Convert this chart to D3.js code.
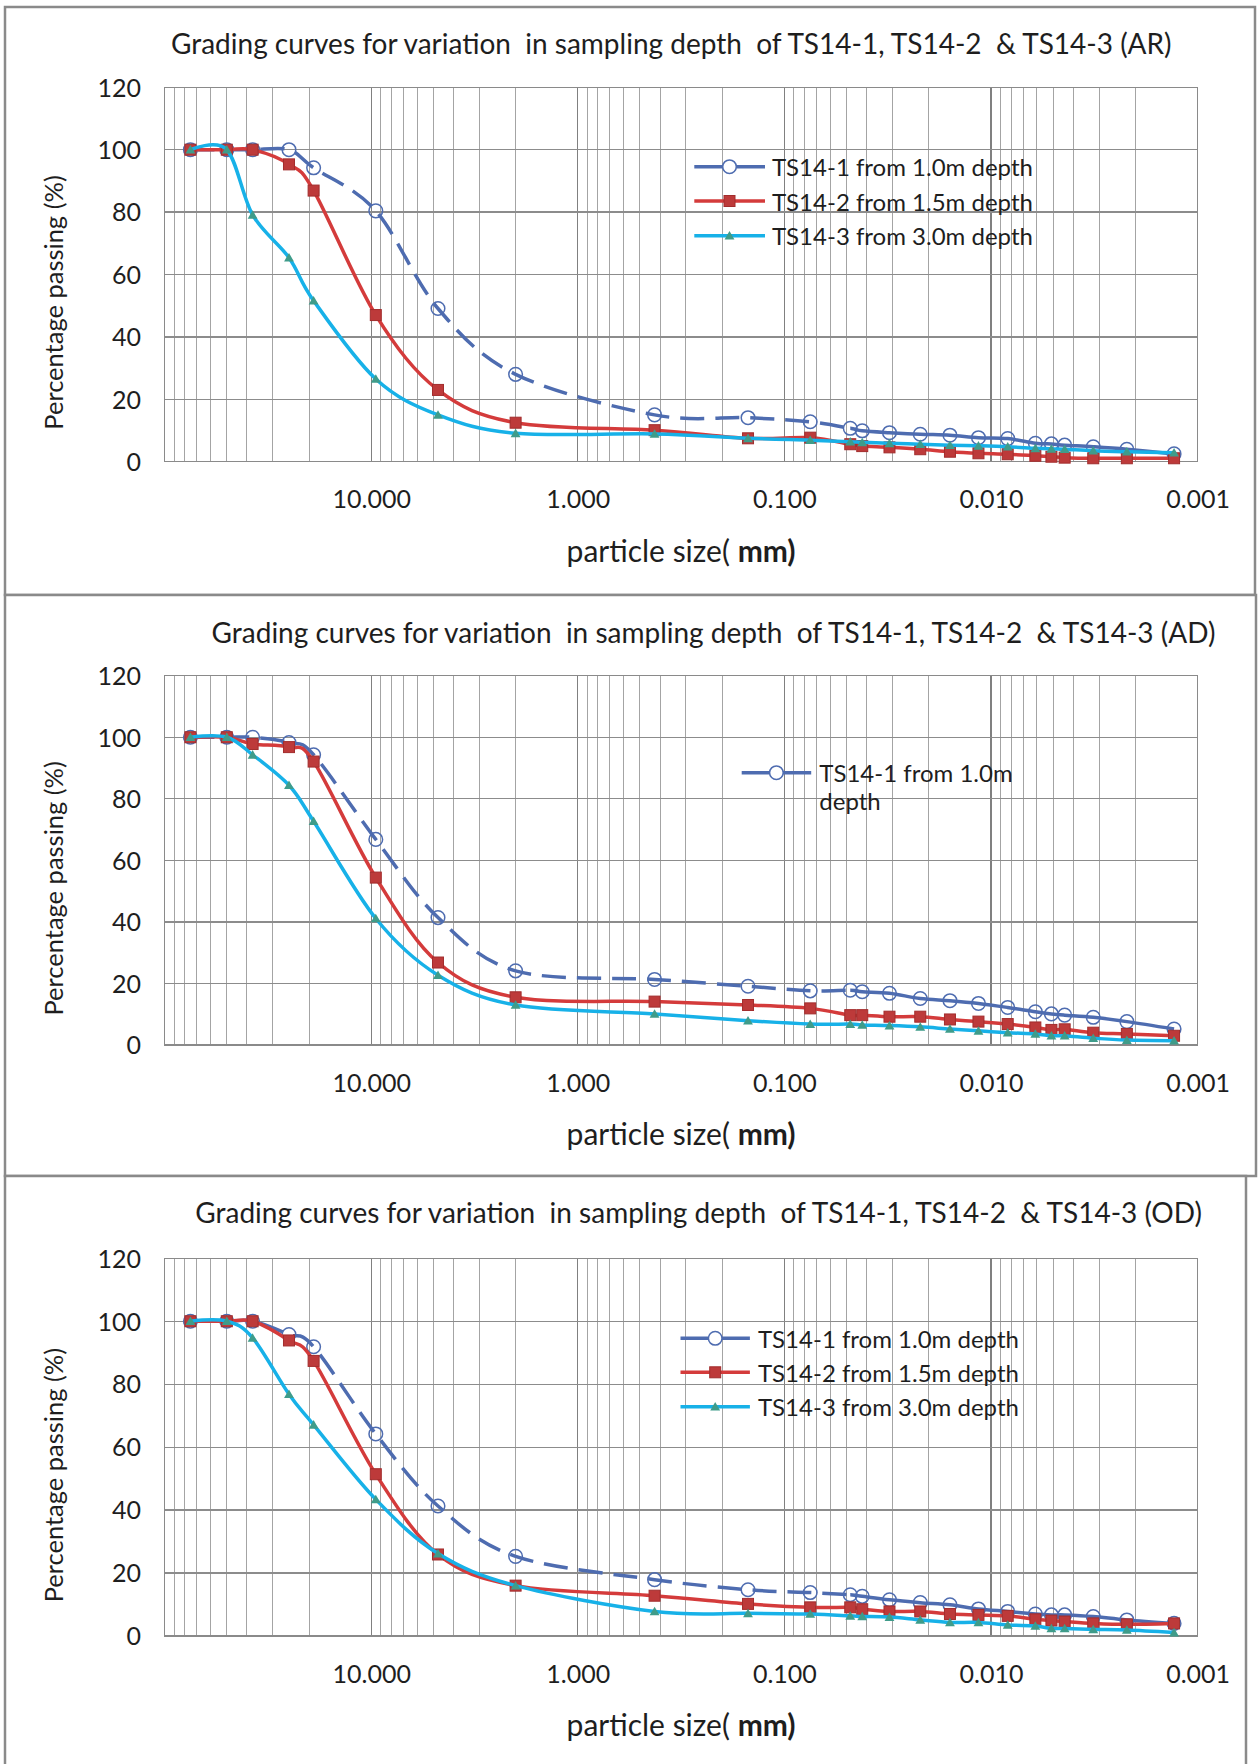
<!DOCTYPE html>
<html>
<head>
<meta charset="utf-8">
<script src="https://cdn.jsdelivr.net/npm/d3@7"></script>
<style>
  html, body { margin: 0; padding: 0; background: #fff; }
  svg { display: block; }
  text { font-family: Lato, "Open Sans", sans-serif; fill: #1e1e1e; }
</style>
</head>
<body>
<svg id="chart" width="1258" height="1764"></svg>
<script>
// Particle sizes (mm): sieve openings followed by hydrometer diameters
const sizes = [75, 50, 37.5, 25, 19, 9.5, 4.75, 2.0, 0.425, 0.15, 0.075,
  0.048, 0.042, 0.031, 0.022, 0.0158, 0.0115, 0.0083, 0.0061, 0.0051, 0.0044, 0.0032, 0.0022, 0.0013];

// Percentage passing, AR
const arTS1 = [100, 100, 100, 100, 94.2, 80.4, 49.1, 28.0, 15.0, 14.1, 12.8,
  10.7, 9.9, 9.3, 8.8, 8.5, 7.7, 7.4, 5.9, 5.7, 5.3, 4.8, 4.0, 2.5];
const arTS2 = [100, 100, 100, 95.3, 86.9, 47.0, 23.0, 12.5, 10.1, 7.5, 7.7,
  5.6, 5.0, 4.6, 4.0, 3.2, 2.7, 2.4, 1.9, 1.6, 1.3, 1.1, 1.1, 1.1];
const arTS3 = [100, 100, 79.1, 65.4, 51.6, 26.5, 15.0, 9.1, 8.9, 7.5, 6.9,
  6.4, 6.2, 5.9, 5.6, 5.3, 5.1, 4.8, 4.3, 4.1, 4.0, 3.5, 3.2, 2.9];

// Percentage passing, AD
const adTS1 = [100, 100, 100, 98.3, 94.3, 66.8, 41.4, 24.1, 21.3, 19.1, 17.6,
  17.8, 17.3, 16.8, 15.1, 14.4, 13.5, 12.2, 10.8, 10.1, 9.7, 9.0, 7.6, 5.2];
const adTS2 = [100, 100, 97.8, 96.8, 92.1, 54.4, 26.8, 15.5, 14.1, 13.0, 11.9,
  9.7, 9.7, 9.2, 9.2, 8.3, 7.6, 6.8, 5.7, 4.9, 5.1, 4.0, 3.6, 3.0];
const adTS3 = [100, 100, 94.3, 84.4, 72.7, 41.1, 22.7, 13.0, 10.1, 7.9, 6.8,
  6.8, 6.5, 6.3, 5.9, 5.2, 4.6, 4.0, 3.6, 3.0, 3.0, 2.2, 1.6, 1.4];

// Percentage passing, OD
const odTS1 = [100, 100, 100, 95.8, 91.9, 64.2, 41.3, 25.3, 17.9, 14.7, 13.8,
  13.1, 12.6, 11.5, 10.6, 9.9, 8.6, 7.8, 7.0, 6.7, 6.7, 6.2, 5.1, 4.0];
const odTS2 = [100, 100, 100, 93.9, 87.4, 51.4, 25.9, 16.0, 12.8, 10.2, 9.1,
  9.1, 8.5, 7.8, 7.8, 7.0, 6.7, 6.4, 5.3, 4.9, 4.6, 4.0, 3.7, 4.0];
const odTS3 = [100, 100, 94.7, 76.8, 67.1, 43.4, 26.2, 16.0, 7.8, 7.2, 7.0,
  6.4, 6.2, 6.0, 5.1, 4.3, 4.3, 3.5, 3.2, 2.4, 2.4, 2.1, 1.9, 1.1];

const panelTitles = [
  "Grading curves for variation  in sampling depth  of TS14-1, TS14-2  & TS14-3 (AR)",
  "Grading curves for variation  in sampling depth  of TS14-1, TS14-2  & TS14-3 (AD)",
  "Grading curves for variation  in sampling depth  of TS14-1, TS14-2  & TS14-3 (OD)"
];
const seriesNames = ["TS14-1 from 1.0m depth", "TS14-2 from 1.5m depth", "TS14-3 from 3.0m depth"];
const adLegendLines = ["TS14-1 from 1.0m", "depth"];
const xTickValues = [10, 1, 0.1, 0.01, 0.001];
const yTickValues = [0, 20, 40, 60, 80, 100, 120];
const xDomain = [100, 0.001];
const yDomain = [0, 120];
const hydrometerStart = 0.048; // first hydrometer diameter: TS14-1 line turns solid here

const panelData = [
  [arTS1, arTS2, arTS3],
  [adTS1, adTS2, adTS3],
  [odTS1, odTS2, odTS3]
];

// Panel geometry (page pixels)
const layout = [
  { frame: [5, 7, 1255, 595], top: 87.3, bottom: 461.7, titleX: 171, titleY: 43.3,
    legend: { x1: 694.3, x2: 765, mx: 729.5, tx: 772, ys: [166.7, 201, 235.7] } },
  { frame: [5, 595, 1256, 1176], top: 675.7, bottom: 1045, titleX: 211.6, titleY: 631.7,
    legend: { x1: 741.7, x2: 811.2, mx: 776.4, tx: 819.3, ys: [772.7] } },
  { frame: [5, 1176, 1246, 1768], top: 1258.3, bottom: 1636, titleX: 195.3, titleY: 1211.7,
    legend: { x1: 680.5, x2: 749.9, mx: 715.2, tx: 758, ys: [1338.3, 1372.3, 1406.7] } }
];
const plotLeft = 164.6, plotRight = 1197.6;

const styles = [
  { color: "#4e6cb0", marker: "circle" },
  { color: "#d43b3b", marker: "square" },
  { color: "#17b1e8", marker: "triangle" }
];

const svg = d3.select("#chart");
const defs = svg.append("defs");

function drawMarker(g, type, cx, cy, legend) {
  if (type === "circle") {
    g.append("circle").attr("cx", cx).attr("cy", cy).attr("r", 6.8)
      .attr("fill", legend ? "#fff" : "none").attr("stroke", "#4e6cb0").attr("stroke-width", 1.5);
  } else if (type === "square") {
    g.append("rect").attr("x", cx - 5.5).attr("y", cy - 5.5).attr("width", 11).attr("height", 11)
      .attr("fill", "#bd3a3a").attr("stroke", "#a22d2d").attr("stroke-width", 1);
  } else {
    g.append("path").attr("d", d3.symbol(d3.symbolTriangle, 42)())
      .attr("transform", `translate(${cx},${cy + 1})`)
      .attr("fill", "#3f9c8a");
  }
}

layout.forEach((L, pi) => {
  const g = svg.append("g");
  const [fx0, fy0, fx1, fy1] = L.frame;
  g.append("rect").attr("x", fx0).attr("y", fy0).attr("width", fx1 - fx0).attr("height", fy1 - fy0)
    .attr("fill", "#fff").attr("stroke", "#8a8a8a").attr("stroke-width", 2.5);

  const x = d3.scaleLog().domain(xDomain).range([plotLeft, plotRight]);
  const y = d3.scaleLinear().domain(yDomain).range([L.bottom, L.top]);

  // Log grid: every 1..9 multiple within each decade
  const grid = g.append("g");
  x.ticks().forEach(v => {
    const major = Math.abs(Math.log10(v) - Math.round(Math.log10(v))) < 1e-9;
    grid.append("line").attr("x1", x(v)).attr("x2", x(v)).attr("y1", L.top).attr("y2", L.bottom)
      .attr("stroke", major ? "#808080" : "#a4a4a4").attr("stroke-width", major ? 1.3 : 1)
      .attr("shape-rendering", "crispEdges");
  });
  yTickValues.forEach(v => {
    grid.append("line").attr("x1", plotLeft).attr("x2", plotRight).attr("y1", y(v)).attr("y2", y(v))
      .attr("stroke", "#8c8c8c").attr("stroke-width", 1.3).attr("shape-rendering", "crispEdges");
  });
  grid.append("rect").attr("x", plotLeft).attr("y", L.top).attr("width", plotRight - plotLeft)
    .attr("height", L.bottom - L.top).attr("fill", "none").attr("stroke", "#8a8a8a").attr("stroke-width", 1.3)
    .attr("shape-rendering", "crispEdges");

  // Axes (labels only)
  const xAxis = g.append("g").attr("transform", `translate(0,${L.bottom + 38})`)
    .call(d3.axisBottom(x).tickValues(xTickValues).tickFormat(d3.format(".3f")).tickSize(0).tickPadding(0));
  xAxis.select(".domain").remove();
  xAxis.selectAll("text").attr("font-size", 25).attr("dy", "0.35em")
    .style("font-family", "Lato, sans-serif").attr("fill", "#1e1e1e");

  const yAxis = g.append("g").attr("transform", `translate(141,0)`)
    .call(d3.axisLeft(y).tickValues(yTickValues).tickSize(0).tickPadding(0));
  yAxis.select(".domain").remove();
  yAxis.selectAll("text").attr("font-size", 25).attr("dy", "0.35em")
    .style("font-family", "Lato, sans-serif").attr("fill", "#1e1e1e");

  // Titles
  g.append("text").attr("x", L.titleX).attr("y", L.titleY).attr("text-anchor", "start")
    .attr("dominant-baseline", "central").attr("font-size", 28).style("white-space", "pre")
    .text(panelTitles[pi]);

  const xt = g.append("text").attr("x", (plotLeft + plotRight) / 2).attr("y", L.bottom + 88)
    .attr("text-anchor", "middle").attr("dominant-baseline", "central").attr("font-size", 30)
    .style("white-space", "pre");
  xt.append("tspan").text("particle size( ");
  xt.append("tspan").attr("font-weight", "bold").text("mm)");

  const yc = (L.top + L.bottom) / 2 + 28;
  g.append("text").attr("transform", `translate(53,${yc}) rotate(-90)`)
    .attr("text-anchor", "middle").attr("dominant-baseline", "central").attr("font-size", 25.5)
    .text("Percentage passing (%)");

  // Clips separating the dashed sieve part from the solid hydrometer part
  const xs = x(hydrometerStart);
  defs.append("clipPath").attr("id", `sieve${pi}`).append("rect")
    .attr("x", plotLeft - 20).attr("y", L.top - 20).attr("width", xs - plotLeft + 20).attr("height", L.bottom - L.top + 40);
  defs.append("clipPath").attr("id", `hydro${pi}`).append("rect")
    .attr("x", xs).attr("y", L.top - 20).attr("width", plotRight - xs + 20).attr("height", L.bottom - L.top + 40);

  const line = d3.line().x(d => x(d[0])).y(d => y(d[1])).curve(d3.curveCatmullRom.alpha(0));

  panelData[pi].forEach((vals, si) => {
    const pts = sizes.map((s, i) => [s, vals[i]]);
    const st = styles[si];
    const sg = g.append("g");
    if (si === 0) {
      sg.append("path").attr("d", line(pts)).attr("fill", "none").attr("stroke", st.color)
        .attr("stroke-width", 3.5).attr("stroke-dasharray", "24,11").attr("clip-path", `url(#sieve${pi})`);
      sg.append("path").attr("d", line(pts)).attr("fill", "none").attr("stroke", st.color)
        .attr("stroke-width", 3.5).attr("clip-path", `url(#hydro${pi})`);
    } else {
      sg.append("path").attr("d", line(pts)).attr("fill", "none").attr("stroke", st.color)
        .attr("stroke-width", 3.5);
    }
    pts.forEach(p => drawMarker(sg, st.marker, x(p[0]), y(p[1]), false));
  });

  // Legend
  const lg = g.append("g");
  L.legend.ys.forEach((ly, k) => {
    const st = styles[k];
    lg.append("line").attr("x1", L.legend.x1).attr("x2", L.legend.x2).attr("y1", ly).attr("y2", ly)
      .attr("stroke", st.color).attr("stroke-width", 3.5);
    drawMarker(lg, st.marker, L.legend.mx, ly, true);
    const lines = pi === 1 ? adLegendLines : [seriesNames[k]];
    lines.forEach((t, j) => {
      lg.append("text").attr("x", L.legend.tx).attr("y", ly + j * 27.3)
        .attr("dominant-baseline", "central").attr("font-size", 24).text(t);
    });
  });
});
</script>
</body>
</html>
